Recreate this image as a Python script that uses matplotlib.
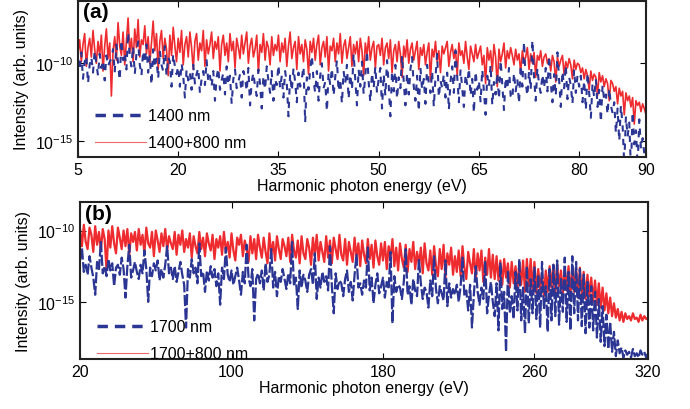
import numpy as np
import matplotlib
matplotlib.use('Agg')
import matplotlib.pyplot as plt
from matplotlib.lines import Line2D
from matplotlib.ticker import NullLocator

plt.rcParams['font.family'] = ['Liberation Sans', 'DejaVu Sans']
plt.rcParams['mathtext.fontset'] = 'custom'
plt.rcParams['mathtext.rm'] = 'Liberation Sans'

# log10 der Intensitaet mal 10 (also -95 -> 1e-9.5)
# (a) 5 ... 90 eV in Schritten von 0.25 eV
red_a = [-93,-85,-99,-88,-81,-102,-90,-84,-96,-79,-91,-100,-86,-95,-82,-105,-89,-78,-97,-87,
         -121,-92,-83,-98,-74,-89,-95,-80,-101,-86,-71,-93,-84,-99,-78,-90,-72,-96,-85,-88,
         -76,-94,-83,-100,-87,-73,-92,-81,-104,-86,-79,-97,-84,-91,-108,-82,-95,-77,-89,-99,
         -84,-93,-79,-101,-88,-83,-96,-80,-90,-104,-86,-81,-98,-87,-92,-79,-102,-85,-94,-88,
         -80,-97,-86,-91,-83,-105,-88,-82,-95,-87,-99,-81,-92,-86,-103,-84,-90,-97,-82,-94,
         -87,-80,-100,-89,-84,-96,-91,-82,-106,-88,-93,-81,-98,-86,-90,-101,-83,-95,-88,-92,
         -82,-99,-87,-93,-84,-102,-89,-80,-97,-90,-86,-104,-83,-94,-88,-99,-85,-91,-107,-86,
         -93,-84,-98,-88,-82,-101,-90,-86,-96,-83,-105,-89,-92,-84,-99,-87,-94,-81,-100,-89,
         -85,-97,-90,-83,-102,-88,-94,-86,-99,-84,-92,-108,-87,-95,-83,-98,-90,-86,-103,-89,
         -88,-95,-84,-101,-90,-87,-97,-85,-106,-92,-88,-99,-86,-94,-109,-89,-96,-85,-100,-91,
         -87,-98,-92,-86,-104,-90,-95,-88,-101,-93,-87,-111,-91,-96,-86,-99,-92,-106,-89,-94,
         -90,-86,-102,-93,-88,-97,-91,-108,-87,-95,-92,-100,-86,-96,-104,-89,-94,-99,-88,-97,
         -93,-89,-101,-95,-113,-90,-98,-92,-105,-88,-96,-115,-91,-99,-94,-87,-103,-92,-97,-90,
         -95,-101,-91,-98,-94,-106,-92,-99,-96,-90,-104,-94,-100,-93,-109,-95,-98,-92,-102,-96,
         -94,-100,-97,-105,-95,-99,-112,-96,-102,-98,-95,-107,-99,-103,-97,-101,-110,-98,-104,-100,
         -101,-106,-103,-110,-104,-108,-117,-105,-111,-107,-109,-121,-106,-112,-108,-115,-110,-113,-124,-111,
         -113,-118,-115,-126,-116,-121,-118,-133,-119,-124,-121,-128,-122,-139,-124,-127,-125,-131,-126,-129,
         -133]
blue_a = [-97,-104,-93,-110,-99,-95,-113,-101,-96,-106,-92,-100,-108,-94,-103,-98,-111,-95,-102,-99,
          -97,-91,-106,-88,-100,-111,-85,-98,-93,-104,-80,-96,-102,-89,-107,-94,-86,-101,-108,-92,
          -100,-88,-106,-95,-114,-91,-103,-97,-110,-92,-101,-105,-89,-108,-96,-99,-115,-94,-102,-107,
          -102,-115,-100,-108,-122,-104,-111,-106,-117,-101,-113,-107,-103,-119,-110,-105,-114,-98,-112,-108,
          -115,-105,-124,-109,-103,-117,-111,-106,-120,-102,-114,-108,-126,-110,-104,-116,-112,-107,-122,-105,
          -109,-118,-103,-127,-112,-106,-115,-121,-104,-113,-129,-108,-117,-102,-111,-119,-105,-124,-110,-114,
          -101,-116,-108,-122,-105,-113,-134,-107,-118,-103,-112,-125,-106,-115,-110,-102,-138,-109,-117,-104,
          -95,-111,-119,-105,-124,-108,-100,-116,-112,-131,-106,-114,-103,-121,-109,-98,-118,-110,-126,-105,
          -113,-101,-123,-107,-117,-94,-110,-127,-104,-115,-99,-120,-108,-92,-112,-125,-106,-116,-102,-119,
          -110,-103,-129,-107,-121,-98,-114,-134,-105,-118,-101,-123,-109,-116,-95,-112,-127,-106,-120,-104,
          -96,-115,-124,-108,-131,-103,-117,-110,-126,-101,-113,-119,-105,-128,-109,-94,-122,-111,-116,-107,
          -122,-106,-130,-112,-102,-119,-92,-109,-125,-104,-116,-128,-107,-114,-103,-121,-110,-132,-105,-117,
          -111,-125,-104,-118,-133,-108,-115,-101,-127,-112,-120,-106,-123,-98,-114,-130,-109,-117,-103,-121,
          -123,-106,-118,-110,-126,-101,-115,-86,-112,-121,-105,-117,-85,-109,-124,-103,-114,-119,-107,-116,
          -103,-118,-95,-112,-125,-107,-121,-93,-110,-128,-105,-116,-101,-123,-109,-114,-126,-104,-119,-108,
          -115,-108,-125,-111,-130,-106,-119,-135,-113,-122,-110,-128,-117,-138,-114,-124,-120,-133,-116,-127,
          -132,-125,-145,-129,-150,-127,-140,-165,-134,-147,-138,-168,-131,-152,-143,-166,-136,-155,-148,-158,
          -165]

# (b) 20 ... 320 eV in Schritten von 1 eV
red_b = [-99,-111,-96,-108,-113,-98,-103,-115,-97,-110,
         -101,-114,-99,-106,-128,-100,-112,-97,-109,-116,
         -98,-105,-113,-100,-111,-99,-117,-102,-108,-101,
         -114,-99,-110,-103,-116,-98,-109,-112,-101,-118,
         -100,-107,-115,-102,-111,-99,-114,-104,-109,-113,
         -101,-117,-103,-110,-100,-115,-106,-112,-102,-119,
         -104,-111,-116,-101,-113,-105,-118,-102,-109,-114,
         -103,-120,-106,-112,-104,-117,-101,-115,-108,-119,
         -102,-114,-121,-105,-110,-103,-118,-107,-113,-122,
         -104,-116,-106,-120,-103,-112,-119,-105,-115,-123,
         -102,-117,-108,-121,-104,-113,-120,-106,-111,-118,
         -105,-122,-103,-114,-119,-107,-123,-104,-116,-120,
         -106,-112,-124,-105,-118,-103,-121,-108,-115,-122,
         -104,-119,-107,-123,-105,-113,-120,-103,-117,-121,
         -106,-124,-108,-115,-122,-105,-119,-109,-125,-107,
         -117,-123,-106,-120,-110,-126,-107,-118,-124,-109,
         -121,-108,-127,-111,-119,-106,-125,-112,-128,-109,
         -120,-126,-110,-129,-113,-122,-108,-127,-115,-124,
         -112,-130,-109,-123,-128,-114,-131,-111,-125,-132,
         -113,-127,-110,-133,-116,-124,-112,-131,-118,-129,
         -114,-132,-111,-126,-134,-115,-123,-130,-113,-135,
         -116,-128,-114,-136,-119,-131,-113,-133,-117,-134,
         -118,-135,-121,-138,-120,-133,-123,-140,-122,-137,
         -125,-141,-123,-138,-121,-143,-120,-139,-120,-142,
         -122,-144,-127,-141,-130,-146,-128,-143,-125,-140,
         -124,-145,-124,-139,-128,-144,-127,-142,-125,-146,
         -125,-143,-126,-147,-126,-145,-129,-148,-131,-146,
         -133,-150,-135,-152,-137,-154,-140,-156,-144,-158,
         -147,-160,-151,-161,-155,-163,-157,-164,-158,-162,
         -160,-163,-158,-162,-161,-164,-159,-163,-160,-162,
         -161]
blue_b = [-121,-112,-129,-124,-131,-118,-126,-133,-145,-122,
          -127,-108,-130,-125,-132,-120,-128,-123,-139,-126,
          -124,-131,-119,-127,-147,-125,-110,-133,-128,-122,
          -129,-134,-124,-130,-114,-127,-150,-126,-132,-123,
          -128,-121,-135,-127,-133,-124,-111,-130,-126,-134,
          -125,-136,-129,-122,-131,-138,-168,-127,-133,-120,
          -130,-126,-137,-109,-132,-129,-143,-128,-135,-125,
          -133,-127,-139,-130,-152,-126,-134,-112,-131,-136,
          -128,-138,-132,-126,-135,-145,-129,-137,-110,-133,
          -139,-127,-163,-134,-130,-137,-128,-142,-123,-136,
          -131,-113,-140,-129,-146,-132,-136,-127,-134,-141,
          -130,-137,-108,-139,-133,-155,-128,-140,-131,-135,
          -143,-131,-127,-138,-116,-148,-133,-140,-129,-136,
          -132,-142,-111,-139,-158,-130,-141,-135,-137,-146,
          -134,-128,-143,-136,-149,-131,-117,-140,-137,-145,
          -135,-140,-112,-142,-133,-151,-138,-130,-144,-139,
          -133,-147,-136,-141,-115,-165,-132,-143,-138,-140,
          -148,-136,-113,-145,-139,-152,-134,-142,-146,-120,
          -137,-148,-140,-143,-154,-135,-146,-118,-141,-151,
          -139,-144,-149,-121,-153,-137,-147,-141,-145,-138,
          -150,-139,-119,-146,-142,-156,-138,-168,-145,-125,
          -143,-152,-140,-148,-122,-158,-145,-136,-150,-160,
          -137,-170,-123,-155,-143,-185,-128,-158,-146,-162,
          -129,-156,-120,-163,-140,-172,-125,-165,-134,-158,
          -126,-162,-131,-168,-122,-155,-139,-171,-127,-163,
          -124,-160,-121,-166,-134,-157,-119,-164,-129,-170,
          -118,-158,-122,-163,-127,-167,-131,-172,-136,-168,
          -139,-170,-143,-175,-148,-178,-153,-181,-159,-183,
          -164,-185,-171,-188,-177,-186,-182,-189,-184,-187,
          -185,-189,-183,-188,-186,-189,-184,-187,-185,-189,
          -186]

labels_a = ['1400 nm', '1400+800 nm']
labels_b = ['1700 nm', '1700+800 nm']
xticks_a = [5, 20, 35, 50, 65, 80, 90]
xticks_b = [20, 100, 180, 260, 320]

blue = '#2b3593'
red = '#ee2b2e'

x_a = np.linspace(5, 90, len(red_a))
x_b = np.linspace(20, 320, len(red_b))

fig = plt.figure(figsize=(6.9, 4.1), dpi=100)
ax1 = fig.add_axes([0.113, 0.615, 0.8232, 0.3805])
ax2 = fig.add_axes([0.116, 0.122, 0.8232, 0.383])

def panel(ax, x, r, b, xlim, ylim, xticks, labels, tag, anchor, dash, lw_r, lw_b):
    ax.plot(x, 10 ** (np.array(r) / 10.0), color=red, lw=lw_r)
    ax.plot(x, 10 ** (np.array(b) / 10.0), color=blue, lw=lw_b, ls=dash)
    ax.set_yscale('log')
    ax.set_xlim(xlim)
    ax.set_ylim(ylim)
    ax.set_xticks(xticks)
    ax.set_yticks([1e-15, 1e-10])
    ax.yaxis.set_minor_locator(NullLocator())
    ax.tick_params(direction='in', top=True, right=True, labelsize=11.5, length=4, width=0.8)
    for s in ax.spines.values():
        s.set_linewidth(1.5)
        s.set_color('#222222')
    ax.set_xlabel('Harmonic photon energy (eV)', fontsize=11.5, labelpad=1)
    ax.set_ylabel('Intensity (arb. units)', fontsize=11.5)
    ax.text(0.008, 0.99, tag, transform=ax.transAxes, fontsize=15, fontweight='bold', va='top')
    h = [Line2D([], [], color=blue, lw=2.5, ls=(0, (3, 2))),
         Line2D([], [], color=red, lw=0.8, alpha=0.7)]
    ax.legend(h, labels, loc='lower left', frameon=False, fontsize=11.5,
              handlelength=3.2, handletextpad=0.1, labelspacing=0.75,
              borderaxespad=0.3, bbox_to_anchor=anchor)

panel(ax1, x_a, red_a, blue_a, (5, 90), (1e-16, 1e-6), xticks_a, labels_a, '(a)',
      (0.01, -0.03), (0, (3, 3.5)), 1.2, 1.5)
panel(ax2, x_b, red_b, blue_b, (20, 320), (1e-19, 1e-8), xticks_b, labels_b, '(b)',
      (0.01, -0.085), (0, (5, 1.2)), 1.6, 1.6)

fig.savefig('out.png', dpi=100)
